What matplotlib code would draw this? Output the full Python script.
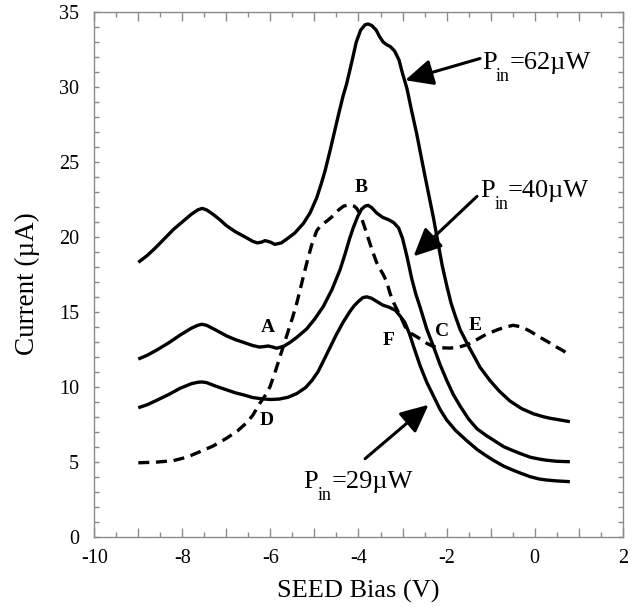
import matplotlib
matplotlib.use("Agg")
import matplotlib.pyplot as plt
from matplotlib.ticker import MultipleLocator, FuncFormatter
from matplotlib.patches import ArrowStyle
from matplotlib.transforms import offset_copy

plt.rcParams["font.family"] = ["Liberation Serif", "DejaVu Serif"]
plt.rcParams["axes.unicode_minus"] = False

# SEED photocurrent vs bias for three input powers
bias_62 = [-9.0, -8.8, -8.6, -8.4, -8.2, -8.0, -7.8, -7.65, -7.55, -7.45, -7.3, -7.15, -7.0,
           -6.8, -6.55, -6.4, -6.3, -6.2, -6.12, -6.0, -5.9, -5.75, -5.63, -5.45, -5.25, -5.1,
           -4.95, -4.85, -4.76, -4.65, -4.57, -4.45, -4.35, -4.27, -4.15, -4.05, -3.95, -3.85,
           -3.78, -3.7, -3.6, -3.52, -3.44, -3.35, -3.28, -3.18, -3.08, -3.0, -2.9, -2.8, -2.68,
           -2.5, -2.3, -2.2, -2.1, -2.0, -1.9, -1.8, -1.69, -1.5, -1.35, -1.24, -1.1, -1.01,
           -0.8, -0.56, -0.3, -0.03, 0.2, 0.35, 0.55, 0.8]
current_62 = [18.3, 18.75, 19.3, 19.9, 20.5, 21.0, 21.5, 21.8, 21.9, 21.8, 21.5, 21.15, 20.75,
              20.35, 19.95, 19.7, 19.6, 19.65, 19.75, 19.65, 19.5, 19.6, 19.85, 20.25, 20.9, 21.6,
              22.6, 23.5, 24.4, 25.7, 26.7, 28.2, 29.4, 30.2, 31.7, 33.0, 33.8, 34.15,
              34.2, 34.1, 33.8, 33.35, 33.0, 32.8, 32.7, 32.4, 31.8, 30.9, 29.9, 28.5, 26.9,
              24.2, 21.3, 19.7, 18.1, 16.8, 15.6, 14.7, 13.8, 12.7, 11.9, 11.3, 10.75, 10.4,
              9.7, 9.05, 8.55, 8.2, 8.0, 7.9, 7.8, 7.67]

bias_40 = [-9.0, -8.8, -8.58, -8.3, -8.05, -7.8, -7.65, -7.56, -7.45, -7.25, -7.0, -6.8, -6.6,
           -6.4, -6.25, -6.15, -6.05, -5.95, -5.86, -5.7, -5.56, -5.4, -5.18, -5.0, -4.8, -4.6,
           -4.42, -4.3, -4.2, -4.12, -4.02, -3.93, -3.85, -3.78, -3.7, -3.59, -3.45, -3.32, -3.2,
           -3.09, -3.0, -2.9, -2.79, -2.7, -2.6, -2.45, -2.3, -2.15, -2.0, -1.85, -1.69, -1.5,
           -1.31, -1.1, -0.94, -0.7, -0.5, -0.33, -0.1, 0.1, 0.27, 0.5, 0.8]
current_40 = [11.85, 12.1, 12.45, 12.95, 13.45, 13.9, 14.1, 14.17, 14.1, 13.8, 13.4, 13.15, 12.95,
              12.75, 12.65, 12.68, 12.72, 12.65, 12.57, 12.7, 12.95, 13.3, 13.85, 14.5, 15.35, 16.5,
              17.8, 18.9, 19.9, 20.6, 21.35, 21.85, 22.05, 22.1, 21.95, 21.6, 21.3, 21.15, 20.95,
              20.6, 19.9, 18.7, 17.2, 16.2, 15.3, 13.85, 12.7, 11.5, 10.45, 9.5, 8.7, 7.85,
              7.2, 6.75, 6.45, 6.0, 5.75, 5.55, 5.3, 5.18, 5.1, 5.03, 5.0]

bias_29 = [-9.0, -8.8, -8.58, -8.3, -8.05, -7.8, -7.65, -7.56, -7.45, -7.25, -7.0, -6.8, -6.6,
           -6.4, -6.2, -6.0, -5.8, -5.6, -5.4, -5.2, -5.05, -4.92, -4.8, -4.65, -4.5, -4.35,
           -4.2, -4.1, -4.0, -3.9, -3.81, -3.7, -3.59, -3.45, -3.3, -3.16, -3.05, -2.95, -2.85,
           -2.75, -2.6, -2.45, -2.3, -2.15, -2.0, -1.8, -1.54, -1.3, -1.1, -0.94, -0.7, -0.5,
           -0.33, -0.1, 0.1, 0.27, 0.5, 0.8]
current_29 = [8.6, 8.8, 9.1, 9.5, 9.9, 10.2, 10.3, 10.32, 10.28, 10.05, 9.8, 9.6, 9.45,
              9.28, 9.2, 9.15, 9.18, 9.3, 9.55, 9.95, 10.45, 11.0, 11.7, 12.6, 13.5, 14.3,
              15.0, 15.4, 15.7, 15.95, 16.0, 15.9, 15.7, 15.45, 15.3, 15.1, 14.7, 14.3, 13.6,
              12.7, 11.4, 10.3, 9.4, 8.5, 7.8, 7.1, 6.4, 5.8, 5.4, 5.1, 4.7, 4.45,
              4.25, 4.0, 3.85, 3.78, 3.72, 3.67]

# load line (dashed)
bias_load = [-9.0, -8.6, -8.21, -7.9, -7.6, -7.3, -7.0, -6.75, -6.54, -6.4, -6.24, -6.1, -6.01,
             -5.88, -5.74, -5.62, -5.5, -5.4, -5.29, -5.18, -5.06, -4.95, -4.85, -4.72, -4.6,
             -4.45, -4.34, -4.2, -4.1, -4.04, -3.96, -3.89, -3.8, -3.7, -3.59, -3.5, -3.44,
             -3.36, -3.28, -3.2, -3.1, -3.0, -2.94, -2.8, -2.6, -2.45, -2.31, -2.1, -1.92,
             -1.72, -1.54, -1.4, -1.25, -1.1, -1.01, -0.85, -0.7, -0.49, -0.3, -0.1, 0.12,
             0.3, 0.5, 0.65, 0.8]
current_load = [4.93, 4.97, 5.07, 5.3, 5.67, 6.05, 6.56, 7.05, 7.6, 8.1, 8.9, 9.5, 10.0,
                11.1, 12.4, 13.5, 14.6, 15.6, 16.9, 18.2, 19.5, 20.4, 20.8, 21.05, 21.35,
                21.8, 22.05, 22.15, 22.05, 21.9, 21.5, 20.9, 20.1, 19.2, 18.3, 17.8, 17.5,
                17.0, 16.2, 15.6, 15.0, 14.4, 14.0, 13.55, 13.2, 12.9, 12.7, 12.6, 12.58,
                12.65, 12.8, 13.0, 13.25, 13.5, 13.6, 13.8, 13.95, 14.1, 14.0, 13.7, 13.3,
                13.0, 12.65, 12.4, 12.1]

point_labels = ["A", "B", "C", "D", "E", "F"]
point_x = [-6.05, -3.94, -2.11, -6.08, -1.35, -3.32]
point_y = [14.1, 23.45, 13.8, 7.9, 14.2, 13.2]

power_labels = ["62", "40", "29"]
power_text_xy = [(-1.2, 31.2), (-1.24, 22.67), (-5.25, 3.23)]
arrow_tail = [(-1.24, 31.9), (-1.31, 22.7), (-3.85, 5.2)]
arrow_head = [(-2.94, 30.45), (-2.75, 18.7), (-2.41, 8.8)]

fig = plt.figure(figsize=(6.34, 6.10), dpi=100)
ax = fig.add_axes([0.1487, 0.1202, 0.8335, 0.8601])

lw = 2.4
for bx, cy in [(bias_62, current_62), (bias_40, current_40), (bias_29, current_29)]:
    ax.plot(bx, cy, color="black", lw=lw, solid_joinstyle="round", solid_capstyle="butt")
ax.plot(bias_load, current_load, color="black", lw=lw, linestyle=(0, (3.3, 2.0)),
        dash_capstyle="butt")

for lab, px, py in zip(point_labels, point_x, point_y):
    ax.text(px, py - 0.43, lab, ha="center", va="baseline", fontsize=14, fontweight="bold")

arrow = ArrowStyle("-|>", head_length=0.85, head_width=0.4)
for p, (tx, ty), tail, head in zip(power_labels, power_text_xy, arrow_tail, arrow_head):
    ax.text(tx, ty, "P", ha="left", va="baseline", fontsize=19)
    ax.text(tx, ty, "in", ha="left", va="baseline", fontsize=13,
            transform=offset_copy(ax.transData, fig=fig, x=10.3, y=-8.6, units="points"))
    ax.text(tx, ty, "=" + p + "µW", ha="left", va="baseline", fontsize=19,
            transform=offset_copy(ax.transData, fig=fig, x=20.2, y=0, units="points"))
    ax.annotate("", xy=head, xytext=tail,
                arrowprops=dict(arrowstyle=arrow, mutation_scale=20, lw=2.2,
                                color="black", shrinkA=0, shrinkB=0))

ax.set_xlim(-10, 2)
ax.set_ylim(0, 35)

ax.xaxis.set_major_locator(MultipleLocator(1))
ax.xaxis.set_minor_locator(MultipleLocator(0.5))
ax.xaxis.set_major_formatter(FuncFormatter(
    lambda v, pos: "%d" % round(v) if abs(v - round(v)) < 1e-6 and round(v) % 2 == 0 else ""))
ax.yaxis.set_major_locator(MultipleLocator(5))
ax.yaxis.set_minor_locator(MultipleLocator(1))

grey = "#8a8a8a"
for s in ax.spines.values():
    s.set_color(grey)
    s.set_linewidth(1.0)
ax.tick_params(which="both", direction="in", top=True, right=True, color=grey, width=1.0,
               labelsize=14.5)
ax.tick_params(axis="x", which="major", length=6.5, pad=9)
ax.tick_params(axis="x", which="minor", length=3.5)
ax.tick_params(axis="y", which="both", length=3.5, pad=11)

ax.text(0.5, -0.1035, "SEED Bias (V)", transform=ax.transAxes, ha="center", va="center",
        fontsize=19)
ax.text(-0.127, 0.483, "Current (µA)", transform=ax.transAxes, ha="center", va="center",
        rotation=90, fontsize=19.5)

fig.savefig("out.png", dpi=100)
